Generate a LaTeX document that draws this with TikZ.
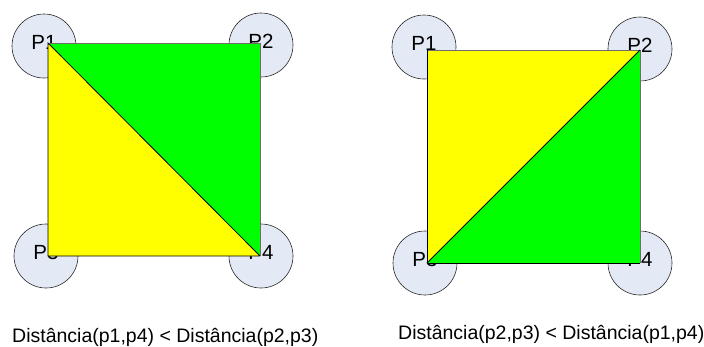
\documentclass[tikz,border=0pt]{standalone}
\usepackage{fontspec}
\setmainfont{Liberation Sans}
\usetikzlibrary{positioning}
\definecolor{cPonto}{RGB}{228,234,245}
\definecolor{cAmarelo}{RGB}{255,255,0}
\definecolor{cVerde}{RGB}{0,255,0}
\definecolor{cBorda}{RGB}{110,110,110}
\tikzset{
	ponto/.style  ={circle, draw=black!85, line width=0.6pt, fill=cPonto, minimum size=64pt, inner sep=0pt, text depth=8pt, font=\fontsize{20.5}{24}\selectfont},
	lado/.style   ={draw=cBorda, line width=0.8pt},
	diag/.style   ={draw=black, line width=0.8pt},
	legenda/.style={anchor=base west, inner sep=0pt},
}

\begin{document}
\begin{tikzpicture}[x=1pt, y=-1pt, font=\fontsize{19.5}{23}\selectfont]
	\useasboundingbox (0,0) rectangle (704,346);
	% caso 1: diagonal p1-p4
	\node[ponto] (a1) at (44,46) {P1};
	\node[ponto] (a2) at (261,45) {P2};
	\node[ponto] (a3) at (46,256) {P3};
	\node[ponto] (a4) at (261,256) {P4};
	\coordinate (aNW) at (48,43); \coordinate (aNE) at (260,43);
	\coordinate (aSW) at (48,256); \coordinate (aSE) at (260,256);
	\fill[cVerde] (aNW) -- (aNE) -- (aSE) -- cycle;
	\fill[cAmarelo] (aNW) -- (aSW) -- (aSE) -- cycle;
	\draw[lado] (aNW) -- (aNE) -- (aSE);
	\draw[diag] (aSE) -- (aSW) -- (aNW) -- (aSE);
	% caso 2: diagonal p2-p3
	\node[ponto] (b1) at (424,47) {P1};
	\node[ponto] (b2) at (640,49) {P2};
	\node[ponto] (b3) at (425,263) {P3};
	\node[ponto] (b4) at (640,263) {P4};
	\coordinate (bNW) at (427,50); \coordinate (bNE) at (640,50);
	\coordinate (bSW) at (427,263); \coordinate (bSE) at (640,263);
	\fill[cAmarelo] (bNW) -- (bNE) -- (bSW) -- cycle;
	\fill[cVerde] (bNE) -- (bSE) -- (bSW) -- cycle;
	\draw[lado] (bNW) -- (bNE) -- (bSE);
	\draw[diag] (bSE) -- (bSW) -- (bNW);
	\draw[diag] (bSW) -- (bNE);
	% legendas
	\node[legenda] (ta) at (12,342) {Distância(p1,p4) < Distância(p2,p3)};
	\node[legenda] (tb) at (398,339) {Distância(p2,p3) < Distância(p1,p4)};
\end{tikzpicture}
\end{document}
